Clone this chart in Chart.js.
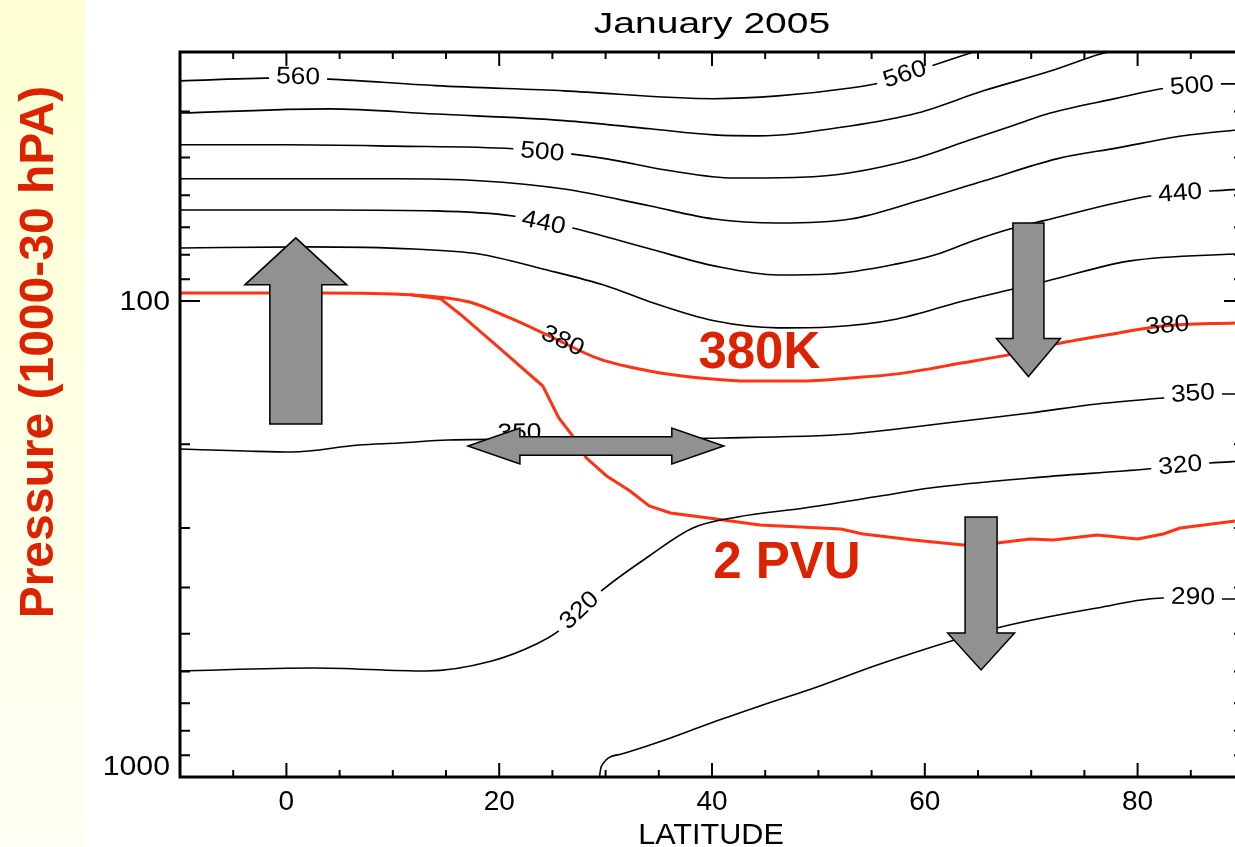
<!DOCTYPE html>
<html>
<head>
<meta charset="utf-8">
<script src="https://cdn.jsdelivr.net/npm/chart.js@4/dist/chart.umd.min.js"></script>
<style>
  html, body { margin: 0; padding: 0; background: #fff; overflow: hidden; width: 1235px; height: 847px; }
  #strip { position: absolute; left: 0; top: 0; width: 85px; height: 847px; background: linear-gradient(#ffffd2, #fffff5); }
  #c { position: absolute; left: 0; top: 0; }
</style>
</head>
<body>
<div id="strip"></div>
<canvas id="c" width="1250" height="847"></canvas>
<script>
// axis ticks
const xTickLabels = [0, 20, 40, 60, 80];
const yTickLabels = [100, 1000];
const yMinorTicks = [40, 50, 60, 70, 80, 90, 200, 300, 400, 500, 600, 700, 800, 900];

// isentropes, [latitude, pressure hPa]
const th560 = [[-10,34.5],[0,34.0],[4,34.2],[14,35.3],[26.1,36.2],[40.2,37.6],[46.2,37.1],[53,35.7],[55.8,34.8],[60.6,32.1],[64,30.3],[67.5,28.6]];
const th530 = [[-10,40.3],[4,39.5],[14,40.5],[26.1,41.8],[34.2,43.5],[40.2,44.8],[44.2,45.0],[53,42.9],[59.3,40.3],[65.5,36.2],[71.8,32.9],[76.5,30.3],[80,29]];
const th500 = [[-10,47.0],[0,47.0],[10,47.3],[21.3,47.9],[26.7,49.1],[30.1,50.3],[36.1,53.3],[42.1,55.2],[48.3,55.0],[53,53.8],[59.3,50.1],[64,46.1],[68.7,42.5],[71.8,40.3],[78.1,37.5],[82.4,35.8],[88,35.0],[90,35.0]];
const th470 = [[-10,55.4],[2,55.4],[10,55.4],[18.1,55.9],[26.1,58.2],[34.2,63.2],[40.2,67.3],[46.2,68.6],[53,67.3],[59.3,61.7],[65.5,56.0],[72.4,50.3],[78.1,47.7],[84.3,45.0],[90,43.6]];
const th440 = [[-10,64.4],[4,64.4],[14,64.7],[21.3,66.3],[26.9,70.3],[34.2,77.8],[40.2,84.4],[46.2,88.2],[51.1,87.8],[57.4,83.6],[61,80],[64.5,74.8],[68,70.6],[71.1,67.9],[81.2,60.2],[87.2,58.7],[90,58.2]];
const th410 = [[-10,77.4],[2,77.0],[12,77.8],[18.1,79.7],[24.1,85.7],[30.1,93.0],[34.2,100.5],[40.2,110.1],[46.2,113.9],[51.1,113.4],[57.4,109.1],[63.6,100],[68.3,94.4],[71.5,90.8],[79.3,82.4],[90,79.5]];
const th380 = [[-10,96.2],[3.2,96.2],[11.7,97.1],[17.2,100.5],[21,108.6],[24.7,118.4],[29.4,132.4],[34.1,140.3],[38.9,145.1],[43.6,147.3],[48.3,147.3],[53,145.1],[57.4,142.3],[63.6,134.9],[68.3,129.2],[72.4,123.1],[77.7,117.3],[82.4,112.9],[89.2,111.2],[90,111]];
const th350 = [[-10,204.7],[-3.8,206.7],[0.5,207.7],[6.8,200.7],[10.6,198.8],[15.2,195.9],[25,195],[41,194],[53,190.3],[57.4,185.8],[63.6,178.7],[69.9,171.9],[76.2,164.6],[82.4,159.9],[88,156.8],[90,156.8]];
const th320 = [[-10,598.8],[2.5,590.2],[13.1,598.8],[19.3,570.5],[23.5,525.6],[25.6,493.5],[29.6,406.6],[34.1,343.4],[38.2,299.9],[42.4,284.3],[48.7,272.2],[55.8,256.9],[60.5,247.2],[69.9,235.5],[80.9,225.5],[86.8,219],[90,216.9]];
const th290 = [[29.4,1005],[29.6,950],[31.5,894.8],[36.1,828.3],[40.4,762.8],[44.5,709.3],[49.6,650.2],[55.8,578.8],[66.8,486.4],[76.2,441.6],[82.4,420.6],[88,422.7],[90,422.7]];

// 2 PVU surface
const pvu2 = [[11.7,97.1],[14.5,99],[16.3,106.5],[20,125.5],[24.1,150.9],[25.6,176.1],[26.9,192.1],[28.2,213.8],[30.1,233.2],[32.3,250.8],[34.1,269.6],[36.1,278.8],[40.4,287.1],[44.5,295.5],[52.1,301.3],[54.2,308.7],[55.8,311.7],[58.9,317.8],[63.6,325.6],[66.8,322.4],[69.9,316.2],[72.1,317.8],[76.2,310.2],[80,316.2],[82.4,308.7],[84,299.9],[89.2,289.9],[90,289]];

const blackLines = [th560, th530, th500, th470, th440, th410, th350, th320, th290];

// contour labels: text, line, latitude, nudge (px)
const contourLabels = [
  ['560', th560, 1.1, -2], ['560', th560, 58.1, -1],
  ['500', th500, 24.05, 0], ['500', th500, 85.1, -1],
  ['440', th440, 24.2, 0], ['440', th440, 84.0, -1],
  ['380', th380, 26.0, -2], ['380', th380, 82.8, -1],
  ['350', th350, 21.9, -7], ['350', th350, 85.2, -3],
  ['320', th320, 27.5, -2], ['320', th320, 84.0, -1],
  ['290', th290, 85.2, -2]
];

// arrows: latitude, tail pressure, tip pressure
const vArrows = [[0.885, 181.3, 73.7], [69.74, 68.6, 144.2], [65.29, 284.3, 595.9]];
const vArrowSize = [[52, 102, 47], [31, 64, 38], [32, 67, 37]];
// double arrow: pressure, lat from, lat to
const hArrow = [201.7, 17.06, 41.11];

const bigLabels = [['380K', 44.45, 138.3], ['2 PVU', 47.04, 381.9]];

const FONT = '"Liberation Sans", Arial, Helvetica, sans-serif';
const RED_TXT = '#dc2200';
const RED_LINE = '#ff3311';
const GREY = '#919191';

const xy = arr => arr.map(([x, y]) => ({ x, y }));

function pixOnLine(line, lat, sx, sy) {
  for (let i = 0; i < line.length - 1; i++) {
    const [x0, p0] = line[i], [x1, p1] = line[i + 1];
    if (lat >= x0 && lat <= x1) {
      const t = (lat - x0) / (x1 - x0);
      const ly = Math.log(p0) + t * (Math.log(p1) - Math.log(p0));
      return [sx.getPixelForValue(lat), sy.getPixelForValue(Math.exp(ly))];
    }
  }
  return null;
}

function wideText(ctx, txt, x, y, k) {
  ctx.save();
  ctx.translate(x, y);
  ctx.scale(k, 1);
  ctx.fillText(txt, 0, 0);
  ctx.restore();
}

const overlay = {
  id: 'overlay',
  afterDatasetsDraw(chart) {
    const { ctx, scales: { x, y } } = chart;

    // contour labels
    ctx.font = '24px ' + FONT;
    contourLabels.forEach(([txt, line, lat, dy]) => {
      const c = pixOnLine(line, lat, x, y);
      const a = pixOnLine(line, lat - 1.5, x, y) || c;
      const b = pixOnLine(line, lat + 1.5, x, y) || c;
      const ang = Math.atan2(b[1] - a[1], b[0] - a[0]);
      ctx.save();
      ctx.translate(c[0], c[1] + dy);
      ctx.rotate(ang);
      const w = ctx.measureText(txt).width * 1.1;
      if (line !== th380) {
        ctx.fillStyle = '#fff';
        ctx.fillRect(-w / 2 - 7, -9 - dy / 2, w + 14, 18);
      }
      ctx.scale(1.1, 1);
      ctx.fillStyle = '#000';
      ctx.textAlign = 'center';
      ctx.textBaseline = 'middle';
      ctx.fillText(txt, 0, 1);
      ctx.restore();
    });

    // arrows
    ctx.save();
    ctx.fillStyle = GREY;
    ctx.strokeStyle = '#000';
    ctx.lineWidth = 1.5;
    ctx.lineJoin = 'miter';
    vArrows.forEach(([lat, p0, p1], i) => {
      const [sw, hw, hl] = vArrowSize[i];
      const cx = x.getPixelForValue(lat), y0 = y.getPixelForValue(p0), y1 = y.getPixelForValue(p1);
      const d = Math.sign(y1 - y0), yb = y1 - d * hl;
      ctx.beginPath();
      ctx.moveTo(cx - sw / 2, y0);
      ctx.lineTo(cx - sw / 2, yb);
      ctx.lineTo(cx - hw / 2, yb);
      ctx.lineTo(cx, y1);
      ctx.lineTo(cx + hw / 2, yb);
      ctx.lineTo(cx + sw / 2, yb);
      ctx.lineTo(cx + sw / 2, y0);
      ctx.closePath();
      ctx.fill();
      ctx.stroke();
    });
    {
      const cy = y.getPixelForValue(hArrow[0]);
      const x0 = x.getPixelForValue(hArrow[1]), x1 = x.getPixelForValue(hArrow[2]);
      const sw = 18.6, hw = 36, hl = 52;
      ctx.beginPath();
      ctx.moveTo(x0, cy);
      ctx.lineTo(x0 + hl, cy - hw / 2);
      ctx.lineTo(x0 + hl, cy - sw / 2);
      ctx.lineTo(x1 - hl, cy - sw / 2);
      ctx.lineTo(x1 - hl, cy - hw / 2);
      ctx.lineTo(x1, cy);
      ctx.lineTo(x1 - hl, cy + hw / 2);
      ctx.lineTo(x1 - hl, cy + sw / 2);
      ctx.lineTo(x0 + hl, cy + sw / 2);
      ctx.lineTo(x0 + hl, cy + hw / 2);
      ctx.closePath();
      ctx.fill();
      ctx.stroke();
    }
    ctx.restore();

    // big red labels
    ctx.save();
    ctx.fillStyle = RED_TXT;
    ctx.font = 'bold 51px ' + FONT;
    ctx.textAlign = 'center';
    ctx.textBaseline = 'alphabetic';
    bigLabels.forEach(([txt, lat, p]) => ctx.fillText(txt, x.getPixelForValue(lat), y.getPixelForValue(p)));
    ctx.restore();
  },
  afterDraw(chart) {
    const { ctx, chartArea: a, scales: { x, y } } = chart;
    ctx.save();
    ctx.strokeStyle = '#000';

    // ticks
    ctx.lineWidth = 2;
    ctx.beginPath();
    for (let v = -5; v < 90; v += 5) {
      const px = x.getPixelForValue(v);
      const len = xTickLabels.includes(v) ? 14 : 7;
      ctx.moveTo(px, a.bottom); ctx.lineTo(px, a.bottom - len);
      ctx.moveTo(px, a.top); ctx.lineTo(px, a.top + len);
    }
    yMinorTicks.concat(yTickLabels).forEach(v => {
      const py = y.getPixelForValue(v);
      const len = yTickLabels.includes(v) ? 20 : 10;
      ctx.moveTo(a.left, py); ctx.lineTo(a.left + len, py);
      ctx.moveTo(a.right, py); ctx.lineTo(a.right - len, py);
    });
    ctx.stroke();

    // frame
    ctx.lineWidth = 3;
    ctx.strokeRect(a.left, a.top, a.right - a.left, a.bottom - a.top);

    // y tick labels
    ctx.fillStyle = '#000';
    ctx.font = '28px ' + FONT;
    ctx.textAlign = 'right';
    ctx.textBaseline = 'middle';
    yTickLabels.forEach(v => {
      let py = y.getPixelForValue(v);
      if (py > a.bottom - 12) py = a.bottom - 11;
      wideText(ctx, String(v), 170, py + 1, 1.08);
    });

    // titles
    ctx.textAlign = 'center';
    ctx.textBaseline = 'alphabetic';
    ctx.font = '30px ' + FONT;
    wideText(ctx, 'January 2005', 712, 33, 1.3);
    ctx.font = '30px ' + FONT;
    wideText(ctx, 'LATITUDE', 711, 844, 1.02);

    ctx.translate(53, 352);
    ctx.rotate(-Math.PI / 2);
    ctx.fillStyle = RED_TXT;
    ctx.font = 'bold 48px ' + FONT;
    ctx.fillText('Pressure (1000-30 hPA)', 0, 0);
    ctx.restore();
  }
};

const datasets = blackLines.map(l => ({
  data: xy(l), borderColor: '#000', borderWidth: 1.6, cubicInterpolationMode: 'monotone'
}));
datasets.push({ data: xy(th380), borderColor: RED_LINE, borderWidth: 3, cubicInterpolationMode: 'monotone' });
datasets.push({ data: xy(pvu2), borderColor: RED_LINE, borderWidth: 3, tension: 0 });
datasets.forEach(d => { d.showLine = true; d.pointRadius = 0; d.fill = false; });

new Chart(document.getElementById('c'), {
  type: 'scatter',
  data: { datasets },
  options: {
    responsive: false,
    animation: false,
    devicePixelRatio: 1,
    layout: { padding: { left: 0, top: 52, right: 6, bottom: 0 } },
    plugins: { legend: { display: false }, tooltip: { enabled: false } },
    scales: {
      x: {
        type: 'linear', min: -10, max: 90,
        grid: { display: false, drawTicks: false },
        border: { display: false },
        afterBuildTicks: s => { s.ticks = xTickLabels.map(v => ({ value: v })); },
        afterFit: s => { s.height = 70; },
        ticks: { color: '#000', font: { family: FONT, size: 28 }, padding: 8, maxRotation: 0, autoSkip: false }
      },
      y: {
        type: 'logarithmic', min: 30, max: 1000, reverse: true,
        grid: { display: false, drawTicks: false },
        border: { display: false },
        ticks: { display: false },
        afterFit: s => { s.width = 180; }
      }
    }
  },
  plugins: [overlay]
});
</script>
</body>
</html>
